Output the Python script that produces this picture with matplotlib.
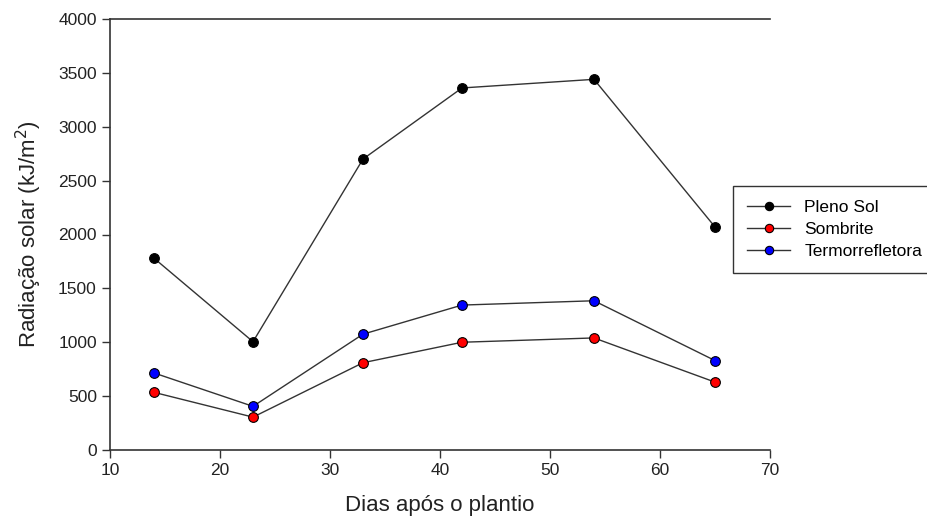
import matplotlib
matplotlib.use("Agg")
import matplotlib.pyplot as plt

days = [14, 23, 33, 42, 54, 65]
pleno_sol = [1780, 1005, 2700, 3360, 3440, 2070]
sombrite = [535, 305, 810, 1000, 1040, 630]
termo = [715, 405, 1075, 1345, 1385, 830]

plt.rcParams['font.family'] = ['Liberation Sans', 'DejaVu Sans']

W, H = 928, 519
fig = plt.figure(figsize=(W/100, H/100), dpi=100)
ax = fig.add_axes([110/W, 1-450/H, 660/W, 431/H])

series = [(pleno_sol, 'black', 'Pleno Sol'), (sombrite, 'red', 'Sombrite'), (termo, 'blue', 'Termorrefletora')]
handles = []
for vals, c, lab in series:
    h, = ax.plot(days, vals, color='#333333', lw=1, marker='o', markersize=7,
                 markerfacecolor=c, markeredgecolor='black', markeredgewidth=0.8, label=lab)
    handles.append(h)

ax.set_xlim(10, 70)
ax.set_ylim(0, 4000)
ax.set_xticks(range(10, 71, 10))
ax.set_yticks(range(0, 4001, 500))
ax.spines['right'].set_visible(False)
for s in ['left', 'bottom', 'top']:
    ax.spines[s].set_color('#333333')
    ax.spines[s].set_linewidth(1.2)
ax.tick_params(direction='out', length=6, width=1, color='#333333', labelsize=12.5, labelcolor='#222222')
ax.set_xlabel('Dias após o plantio', fontsize=16, color='#222222', labelpad=12)
ax.set_ylabel('Radiação solar (kJ/m$^2$)', fontsize=16, color='#222222', labelpad=10)

leg = fig.legend(handles=handles, loc='upper left', bbox_to_anchor=(733/W, 1-270/H, 210/W, 84/H),
                 mode='expand', frameon=True, fancybox=False, fontsize=12.5, handlelength=2.5,
                 borderaxespad=0, labelspacing=0.4, borderpad=0.8)
leg.get_frame().set_edgecolor('black')
leg.get_frame().set_linewidth(1)
for h in leg.legend_handles:
    h.set_markersize(6)

fig.savefig('out.png', dpi=100)
